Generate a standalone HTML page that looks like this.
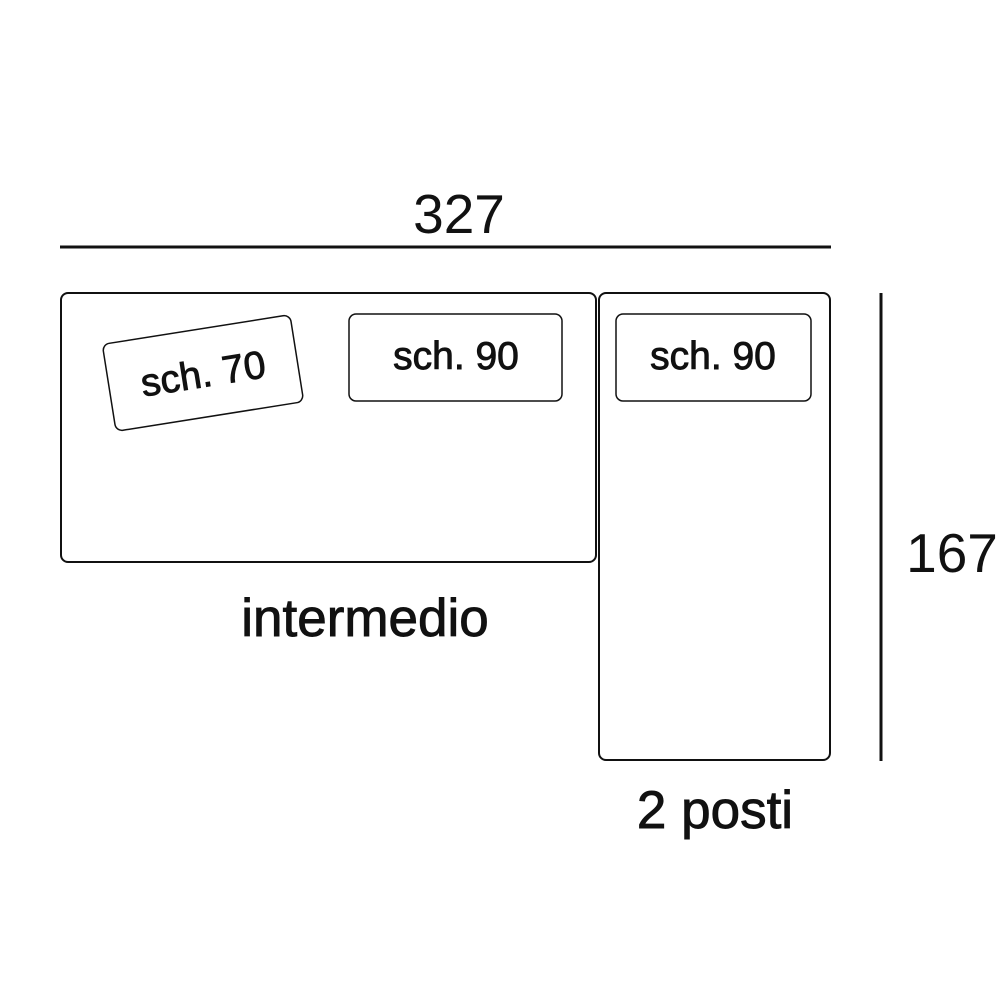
<!DOCTYPE html>
<html><head><style>
html,body{margin:0;padding:0;background:#fff;width:1000px;height:1000px;overflow:hidden}
svg{display:block}
text{font-family:"Liberation Sans",sans-serif;fill:#111}
.b{stroke:#111;stroke-width:0.9}
</style></head><body>
<svg width="1000" height="1000" viewBox="0 0 1000 1000">
<text x="459" y="233" font-size="55" text-anchor="middle">327</text>
<line x1="60" y1="247" x2="831" y2="247" stroke="#111" stroke-width="3"/>
<line x1="881" y1="293" x2="881" y2="761" stroke="#111" stroke-width="3"/>
<text x="952" y="572" font-size="55" text-anchor="middle">167</text>
<rect x="61" y="293" width="535" height="269" rx="7" fill="none" stroke="#111" stroke-width="2"/>
<rect x="599" y="293" width="231" height="467" rx="7" fill="none" stroke="#111" stroke-width="2"/>
<rect x="349" y="314" width="213" height="87" rx="7" fill="none" stroke="#111" stroke-width="1.5"/>
<rect x="616" y="314" width="195" height="87" rx="7" fill="none" stroke="#111" stroke-width="1.5"/>
<g transform="rotate(-9 203 373)">
<rect x="108" y="329" width="190" height="88" rx="7" fill="none" stroke="#111" stroke-width="1.5"/>
<text class="b" x="203" y="387" font-size="39" text-anchor="middle">sch. 70</text>
</g>
<text class="b" x="456" y="369" font-size="39" text-anchor="middle">sch. 90</text>
<text class="b" x="713" y="369" font-size="39" text-anchor="middle">sch. 90</text>
<text class="b" x="365" y="636" font-size="53" text-anchor="middle">intermedio</text>
<text class="b" x="715" y="828" font-size="53" text-anchor="middle">2 posti</text>
</svg>
</body></html>
